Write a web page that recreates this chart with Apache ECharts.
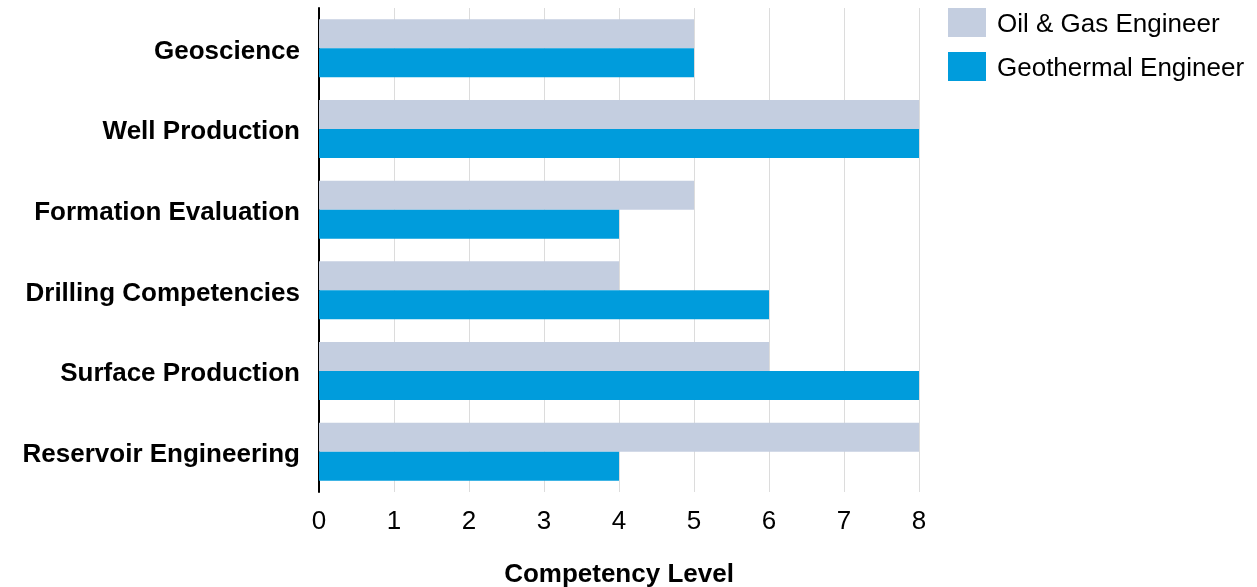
<!DOCTYPE html>
<html>
<head>
<meta charset="utf-8">
<script src="https://cdn.jsdelivr.net/npm/echarts@6/dist/echarts.min.js"></script>
<style>html,body{margin:0;padding:0;background:#fff}#c{width:1257px;height:587px}</style>
</head>
<body>
<div id="c"></div>
<script>
const categories = ["Geoscience", "Well Production", "Formation Evaluation", "Drilling Competencies", "Surface Production", "Reservoir Engineering"];
const oilGas = [5, 8, 5, 4, 6, 8];
const geothermal = [5, 8, 4, 6, 8, 4];
const xTicks = [0, 8, 1];

const chart = echarts.init(document.getElementById('c'));
const F = '"Liberation Sans", Arial, sans-serif';
chart.setOption({
  animation: false,
  textStyle: { fontFamily: F },
  grid: { left: 319, right: 338, top: 8, bottom: 95, outerBoundsMode: 'none', containLabel: false },
  legend: {
    left: 943, top: 3, orient: 'vertical', icon: 'rect',
    itemWidth: 38, itemHeight: 29, itemGap: 14,
    formatter: n => '{a|' + n + '}',
    textStyle: {
      fontSize: 26, color: '#000', fontFamily: F, padding: [0, 0, 0, 6],
      rich: { a: { fontSize: 26, color: '#000', fontFamily: F, padding: [5, 0, 0, 0] } }
    },
    data: ['Oil & Gas Engineer', 'Geothermal Engineer']
  },
  xAxis: {
    type: 'value', min: xTicks[0], max: xTicks[1], interval: xTicks[2],
    axisLine: { show: false }, axisTick: { show: false },
    splitLine: { show: true, lineStyle: { color: '#dcdcdc', width: 1 } },
    axisLabel: { fontSize: 26, color: '#000', margin: 17, fontFamily: F },
    name: 'Competency Level', nameLocation: 'middle', nameGap: 70,
    nameTextStyle: { fontSize: 26, fontWeight: 'bold', color: '#000', fontFamily: F }
  },
  yAxis: {
    type: 'category', data: categories, inverse: true,
    axisLine: { show: true, lineStyle: { color: '#000', width: 2 } },
    axisTick: { show: false },
    axisLabel: {
      margin: 19,
      formatter: v => '{a|' + v + '}',
      rich: { a: { fontSize: 26, fontWeight: 'bold', color: '#000', fontFamily: F, padding: [6, 0, 0, 0] } }
    }
  },
  series: [
    { name: 'Oil & Gas Engineer', type: 'bar', data: oilGas, barGap: '0%', barCategoryGap: '28%', itemStyle: { color: '#c4cee0' } },
    { name: 'Geothermal Engineer', type: 'bar', data: geothermal, barGap: '0%', barCategoryGap: '28%', itemStyle: { color: '#009cdc' } }
  ]
});
</script>
</body>
</html>
